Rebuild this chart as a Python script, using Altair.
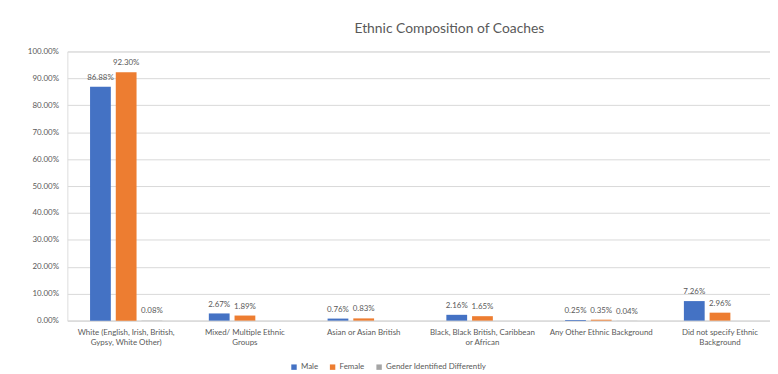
import altair as alt
import pandas as pd

categories = [
    "White (English, Irish, British,\nGypsy, White Other)",
    "Mixed/ Multiple Ethnic\nGroups",
    "Asian or Asian British",
    "Black, Black British, Caribbean\nor African",
    "Any Other Ethnic Background",
    "Did not specify Ethnic\nBackground",
]
genders = ["Male", "Female", "Gender Identified Differently"]
colors = ["#4472C4", "#ED7D31", "#A5A5A5"]
male = [86.88, 2.67, 0.76, 2.16, 0.25, 7.26]
female = [92.30, 1.89, 0.83, 1.65, 0.35, 2.96]
other = [0.08, None, None, None, 0.04, None]
yticks = [0.0, 0.1, 0.2, 0.3, 0.4, 0.5, 0.6, 0.7, 0.8, 0.9, 1.0]

rows = []
for i, c in enumerate(categories):
    for g, vals in zip(genders, [male, female, other]):
        v = vals[i]
        if v is not None:
            rows.append({"category": c, "gender": g, "value": v / 100})
df = pd.DataFrame(rows)

FONT = "Lato"
GREY = "#595959"

base = alt.Chart(df).encode(
    x=alt.X(
        "category:N", sort=categories, title=None,
        scale=alt.Scale(paddingInner=0.392, paddingOuter=0.154, align=0.62),
        axis=alt.Axis(labelAngle=0, labelExpr="split(datum.label, '\\n')",
                      labelFontSize=8, labelColor=GREY, labelFont=FONT,
                      labelPadding=8, ticks=False, grid=False,
                      domainColor="#D9D9D9", labelLineHeight=10, labelLimit=300),
    ),
    xOffset=alt.XOffset("gender:N", sort=genders,
                        scale=alt.Scale(paddingInner=0.192)),
    y=alt.Y(
        "value:Q", title=None, scale=alt.Scale(domain=[0, 1], nice=False),
        axis=alt.Axis(format=".2%", values=yticks, labelFontSize=8,
                      labelColor=GREY, labelFont=FONT, ticks=False, domain=False,
                      gridColor="#D9D9D9", labelPadding=9),
    ),
)

bars = base.mark_bar().encode(
    color=alt.Color(
        "gender:N", sort=genders,
        scale=alt.Scale(domain=genders, range=colors),
        legend=alt.Legend(title=None, orient="none", legendX=225, legendY=315,
                          direction="horizontal", symbolType="square",
                          symbolSize=30, labelFontSize=8, labelColor=GREY,
                          labelFont=FONT, columnPadding=10, symbolStrokeWidth=0,
                          labelOffset=3),
    )
)

labels = base.mark_text(baseline="alphabetic", dy=-7, fontSize=8,
                        color=GREY, font=FONT).encode(
    text=alt.Text("value:Q", format=".2%")
)

chart = alt.layer(bars, labels).properties(
    width=710, height=272,
    title=alt.Title("Ethnic Composition of Coaches", fontSize=14, font=FONT,
                    color=GREY, fontWeight="normal", anchor="middle",
                    dx=31, offset=12),
    padding={"left": 60, "top": 42, "right": 0, "bottom": 50},
    autosize=alt.AutoSizeParams(type="none"),
).configure_view(stroke=None).configure(background="white")

chart.save("out.html", embed_options={"renderer": "svg", "actions": False})
